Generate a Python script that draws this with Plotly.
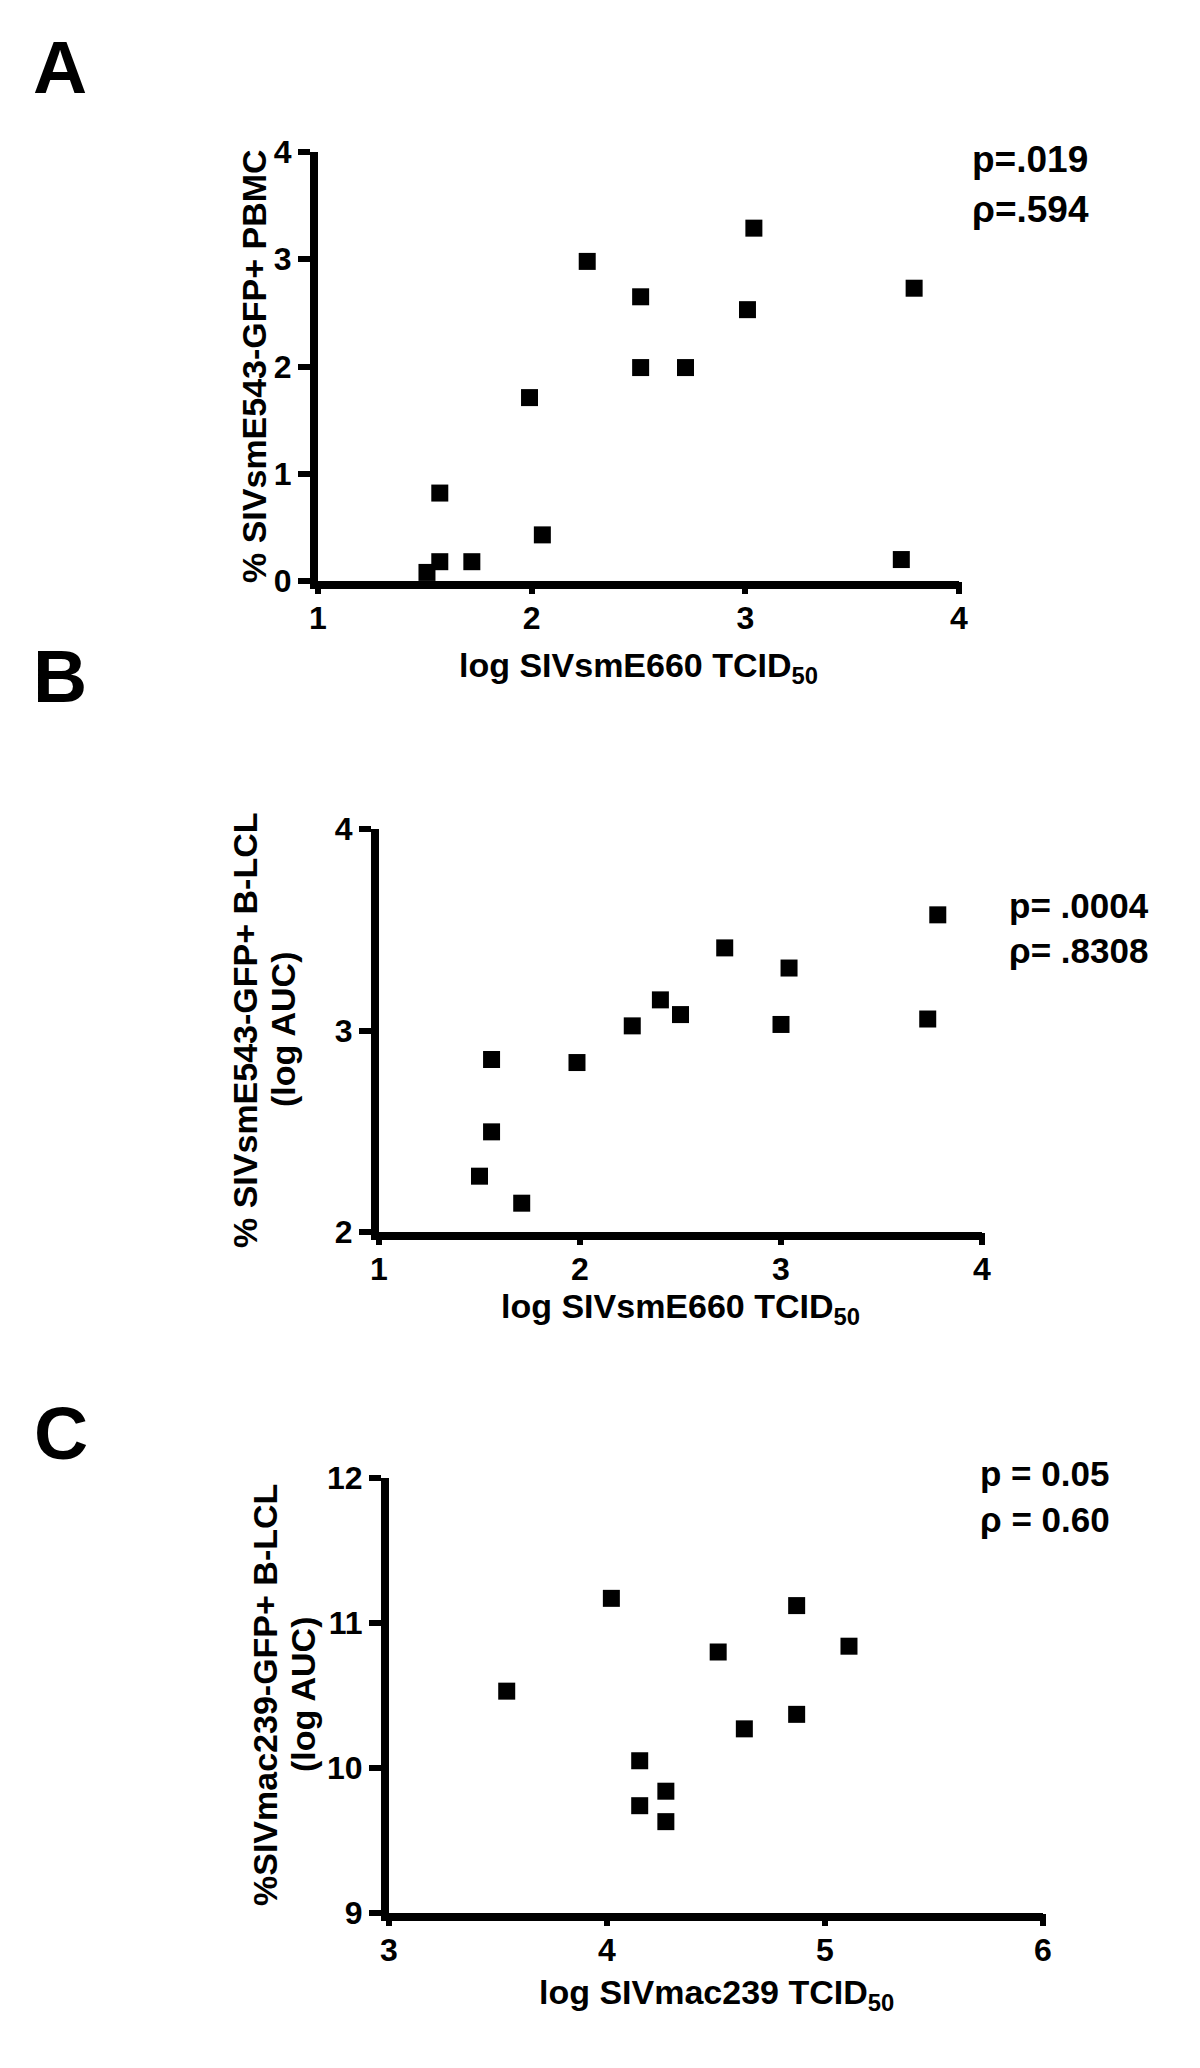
import plotly.graph_objects as go

# ---------------- data ----------------
# Panel A
a_x = [1.51, 1.57, 1.57, 1.72, 1.99, 2.05, 2.26, 2.51, 2.51, 2.72, 3.01, 3.04, 3.79, 3.73]
a_y = [0.08, 0.18, 0.82, 0.18, 1.71, 0.43, 2.98, 2.65, 1.99, 1.99, 2.53, 3.29, 2.73, 0.20]
# Panel B
b_x = [1.50, 1.56, 1.56, 1.71, 1.985, 2.26, 2.40, 2.50, 2.72, 3.00, 3.04, 3.73, 3.78]
b_y = [2.277, 2.497, 2.856, 2.143, 2.841, 3.023, 3.152, 3.079, 3.41, 3.03, 3.31, 3.057, 3.574]
# Panel C
c_x = [3.54, 4.02, 4.15, 4.15, 4.27, 4.27, 4.51, 4.63, 4.87, 4.87, 5.11]
c_y = [10.53, 11.17, 10.05, 9.74, 9.84, 9.63, 10.80, 10.27, 11.12, 10.37, 10.84]

a_xticks = [1, 2, 3, 4]
a_yticks = [0, 1, 2, 3, 4]
b_xticks = [1, 2, 3, 4]
b_yticks = [2, 3, 4]
c_xticks = [3, 4, 5, 6]
c_yticks = [9, 10, 11, 12]

W, H = 1200, 2068
FONT = "Liberation Sans, Arial, Helvetica, sans-serif"


def px_x(p):
    return p / W


def px_y(p):
    return 1 - p / H


fig = go.Figure()

panels = [
    (a_x, a_y, 318, 959, 152, 581, [1, 4], [0, 4], a_xticks, a_yticks),
    (b_x, b_y, 379, 982, 829, 1232, [1, 4], [2, 4], b_xticks, b_yticks),
    (c_x, c_y, 389, 1043, 1478, 1913, [3, 6], [9, 12], c_xticks, c_yticks),
]

tickfont = dict(family=FONT, size=32, color="black", weight="bold")
layout_axes = {}
for i, (xs, ys, l, r, t, b, xr, yr, xt, yt) in enumerate(panels):
    n = i + 1
    sx = "" if n == 1 else str(n)
    xa, ya = "x" + sx, "y" + sx
    ox = "x" + str(n + 3)          # overlay x axis carrying the long ticks
    fig.add_trace(go.Scatter(
        x=xs, y=ys, xaxis=xa, yaxis=ya, mode="markers",
        marker=dict(symbol="square", size=17, color="black", line=dict(width=0)),
        cliponaxis=False, showlegend=False, hoverinfo="x+y",
    ))
    # empty trace so the overlay axis is created
    fig.add_trace(go.Scatter(x=[], y=[], xaxis=ox, yaxis=ya, mode="markers",
                             showlegend=False, hoverinfo="skip"))
    base = dict(showgrid=False, zeroline=False, automargin=False,
                tickcolor="black", tickwidth=6, ticks="outside")
    layout_axes["xaxis" + sx] = dict(
        domain=[px_x(l), px_x(r)], range=xr, tickvals=xt, anchor=ya,
        showline=True, linewidth=8, linecolor="black",
        ticklen=2, tickfont=tickfont, **base)
    layout_axes["xaxis" + str(n + 3)] = dict(
        overlaying=xa, anchor=ya, range=xr, tickvals=xt,
        showline=False, showticklabels=False, ticklen=12, side="bottom", **base)
    layout_axes["yaxis" + sx] = dict(
        domain=[px_y(b), px_y(t)], range=yr, tickvals=yt, anchor=xa,
        showline=True, linewidth=8, linecolor="black",
        ticklen=12, tickfont=tickfont, **base)

fig.update_layout(**layout_axes)

annotations = []


def add_text(text, cx, cy, size, angle=0, xanchor="center"):
    annotations.append(dict(
        text=text, x=px_x(cx), y=px_y(cy), xref="paper", yref="paper",
        xanchor=xanchor, yanchor="middle", showarrow=False, textangle=angle,
        font=dict(family=FONT, size=size, color="black", weight="bold"),
    ))


# panel letters
add_text("A", 60, 67, 75)
add_text("B", 60, 676, 75)
add_text("C", 61, 1433, 75)

# axis titles
add_text("% SIVsmE543-GFP+ PBMC", 254, 366, 34, angle=-90)
add_text("log SIVsmE660 TCID<sub>50</sub>", 638, 667, 34)

add_text("% SIVsmE543-GFP+ B-LCL", 245, 1030, 34, angle=-90)
add_text("(log AUC)", 283, 1030, 34, angle=-90)
add_text("log SIVsmE660 TCID<sub>50</sub>", 680, 1308, 34)

add_text("%SIVmac239-GFP+ B-LCL", 265, 1695, 34, angle=-90)
add_text("(log AUC)", 303, 1695, 34, angle=-90)
add_text("log SIVmac239 TCID<sub>50</sub>", 716, 1994, 34)

# statistics
add_text("p=.019", 970, 160, 37, xanchor="left")
add_text("ρ=.594", 970, 210, 37, xanchor="left")
add_text("p= .0004", 1007, 905, 35, xanchor="left")
add_text("ρ= .8308", 1007, 950, 35, xanchor="left")
add_text("p = 0.05", 978, 1473, 35, xanchor="left")
add_text("ρ = 0.60", 978, 1519, 35, xanchor="left")

fig.update_layout(
    width=W, height=H,
    margin=dict(l=0, r=0, t=0, b=0, pad=0, autoexpand=False),
    paper_bgcolor="white", plot_bgcolor="white",
    annotations=annotations,
    showlegend=False,
)

fig.write_html(
    "out.html",
    config={"displayModeBar": False},
    post_script="document.body.style.margin='0';document.body.style.overflow='hidden';",
)
